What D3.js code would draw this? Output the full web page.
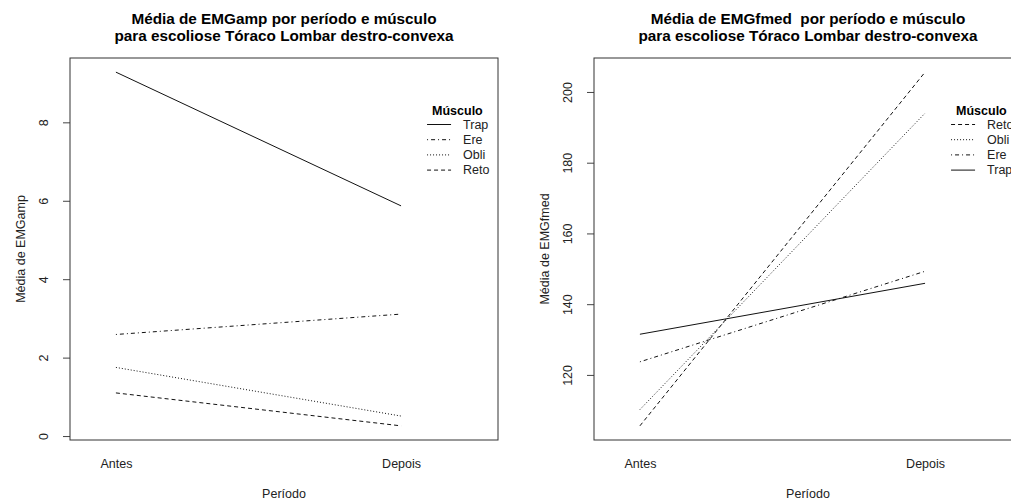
<!DOCTYPE html>
<html>
<head>
<meta charset="utf-8">
<script src="https://cdn.jsdelivr.net/npm/d3@7/dist/d3.min.js"></script>
<style>
  html, body { margin: 0; padding: 0; background: #fff; }
  svg { display: block; font-family: "Liberation Sans", Arial, sans-serif; }
</style>
</head>
<body>
<svg id="chart" width="1011" height="502"></svg>
<script>
// Period levels on the x axis
const periods = ["Antes", "Depois"];

// Mean EMG amplitude by muscle (Antes, Depois)
const ampMuscles = ["Trap", "Ere", "Obli", "Reto"];
const ampTrap = [9.28, 5.87];
const ampEre  = [2.59, 3.11];
const ampObli = [1.75, 0.51];
const ampReto = [1.10, 0.26];
const ampTicks = [0, 2, 4, 6, 8];

// Mean EMG median frequency by muscle (Antes, Depois)
const fmedMuscles = ["Reto", "Obli", "Ere", "Trap"];
const fmedReto = [105.6, 205.6];
const fmedObli = [110.2, 194.0];
const fmedEre  = [123.7, 149.3];
const fmedTrap = [131.5, 145.9];
const fmedTicks = [120, 140, 160, 180, 200];

// Line type for each muscle (solid, dot-dash, dotted, dashed)
const dashFor = {
  Trap: null,
  Ere: "1,3,4,3",
  Obli: "1,2",
  Reto: "4,3"
};

const svg = d3.select("#chart");

function drawPanel(opt) {
  const { left, top, width, height } = opt;
  const g = svg.append("g");

  // x positions 1..2, with extra room on the right for the legend
  const x = d3.scaleLinear().domain([0.839, 2.34]).range([left, left + width]);

  const all = opt.series.flatMap(s => s.values);
  const lo = d3.min(all), hi = d3.max(all), pad = (hi - lo) * 0.04;
  const y = d3.scaleLinear().domain([lo - pad, hi + pad]).range([top + height, top]);

  // titles
  const cx = left + width / 2;
  g.append("text").attr("x", cx).attr("y", 23.5).attr("text-anchor", "middle")
    .attr("font-weight", "bold").attr("font-size", "15.3px").attr("xml:space", "preserve").text(opt.title[0]);
  g.append("text").attr("x", cx).attr("y", 41).attr("text-anchor", "middle")
    .attr("font-weight", "bold").attr("font-size", "15.3px").text(opt.title[1]);

  // series lines
  const line = d3.line().x((d, i) => x(i + 1)).y(d => y(d));
  opt.series.forEach(s => {
    g.append("path")
      .attr("d", line(s.values))
      .attr("fill", "none")
      .attr("stroke", "#111")
      .attr("stroke-width", 1)
      .attr("stroke-dasharray", dashFor[s.name]);
  });

  // y axis with rotated labels
  const ya = g.append("g").attr("transform", `translate(${left},0)`)
    .call(d3.axisLeft(y).tickValues(opt.ticks).tickSize(7).tickFormat(d3.format("d")));
  ya.select(".domain").remove();
  ya.selectAll(".tick line").attr("stroke", "#444");
  ya.selectAll(".tick text")
    .attr("x", null).attr("dy", "0.35em")
    .attr("transform", "translate(-26,0) rotate(-90)")
    .attr("text-anchor", "middle")
    .attr("font-size", "12.5px").attr("font-family", null).attr("fill", "#222");

  // x axis: category labels only
  const xa = g.append("g").attr("transform", `translate(0,${top + height})`)
    .call(d3.axisBottom(x).tickValues([1, 2]).tickSize(0).tickFormat(d => periods[d - 1]));
  xa.select(".domain").remove();
  xa.selectAll(".tick text").attr("y", 27.5).attr("dy", null)
    .attr("font-size", "12.5px").attr("font-family", null).attr("fill", "#222");

  // axis titles
  g.append("text").attr("x", cx).attr("y", top + height + 57.5).attr("text-anchor", "middle")
    .attr("font-size", "12.5px").attr("fill", "#222").text("Período");
  g.append("text")
    .attr("transform", `translate(${left - 49},${top + height / 2}) rotate(-90)`)
    .attr("dy", "0.35em").attr("text-anchor", "middle")
    .attr("font-size", "12.5px").attr("fill", "#222").text(opt.ylab);

  // plot box
  g.append("rect").attr("x", left).attr("y", top).attr("width", width).attr("height", height)
    .attr("fill", "none").attr("stroke", "#333").attr("stroke-width", 1);

  // legend
  const lx = x(2) + 26;
  g.append("text").attr("x", lx + 5).attr("y", 115).attr("font-weight", "bold")
    .attr("font-size", "12.5px").text("Músculo");
  opt.legend.forEach((name, i) => {
    const ly = 124.5 + i * 15.2;
    g.append("line").attr("x1", lx).attr("x2", lx + 24).attr("y1", ly).attr("y2", ly)
      .attr("stroke", "#111").attr("stroke-width", 1).attr("stroke-dasharray", dashFor[name]);
    g.append("text").attr("x", lx + 36).attr("y", ly).attr("dy", "0.35em")
      .attr("font-size", "12.5px").attr("fill", "#222").text(name);
  });
}

const ampValues = { Trap: ampTrap, Ere: ampEre, Obli: ampObli, Reto: ampReto };
const fmedValues = { Reto: fmedReto, Obli: fmedObli, Ere: fmedEre, Trap: fmedTrap };

drawPanel({
  left: 70, top: 58, width: 428, height: 382,
  title: ["Média de EMGamp por período e músculo", "para escoliose Tóraco Lombar destro-convexa"],
  ylab: "Média de EMGamp",
  ticks: ampTicks,
  series: ampMuscles.map(n => ({ name: n, values: ampValues[n] })),
  legend: ampMuscles
});

drawPanel({
  left: 594, top: 58, width: 428, height: 382,
  title: ["Média de EMGfmed  por período e músculo", "para escoliose Tóraco Lombar destro-convexa"],
  ylab: "Média de EMGfmed",
  ticks: fmedTicks,
  series: fmedMuscles.map(n => ({ name: n, values: fmedValues[n] })),
  legend: fmedMuscles
});
</script>
</body>
</html>
